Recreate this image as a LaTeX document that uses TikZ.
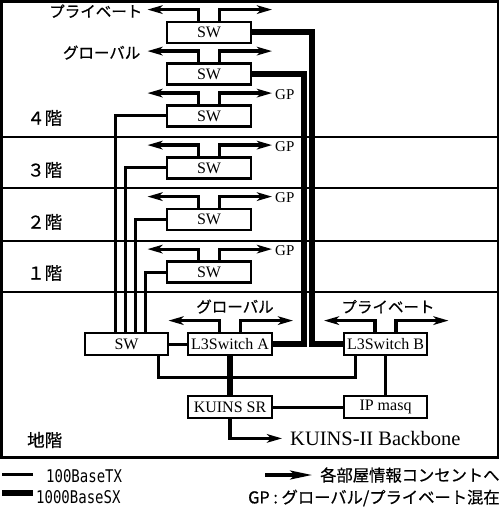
\documentclass[tikz,border=0pt]{standalone}
\usepackage{fontspec}
\setmainfont{Liberation Serif}
\newfontfamily\jp[FakeBold=0.6]{Noto Sans CJK JP}
\newfontfamily\lmono{DejaVu Sans Mono}
\usetikzlibrary{arrows.meta,calc}
\begin{document}
\begin{tikzpicture}[x=1pt,y=-1pt,
  boxst/.style={draw,line width=2.8pt,minimum width=84pt,minimum height=21pt,inner sep=0pt,font=\fontsize{16}{16}\selectfont},
  arr/.style={line width=3.2pt,-{Stealth[length=15pt,width=8.5pt,inset=4pt]}},
  thn/.style={line width=3pt},
  thk/.style={line width=6pt},
  floorline/.style={line width=2pt},
  jplab/.style={font=\jp\fontsize{15.5}{15.5}\selectfont,inner sep=0pt},
  floorlab/.style={font=\jp\fontsize{17.5}{17.5}\selectfont,inner sep=0pt,anchor=west},
  gplab/.style={font=\fontsize{15}{15}\selectfont,inner sep=0pt,anchor=west},
  legtext/.style={font=\jp\fontsize{16.3}{16.3}\selectfont,inner sep=0pt,anchor=west},
  legmono/.style={font=\lmono\fontsize{14}{14}\selectfont,inner sep=0pt,anchor=west}
]
\useasboundingbox (0,0) rectangle (500,510);
% frame and floors
\draw[line width=2.2pt] (1.5,1.5) rectangle (498,457.5);
\foreach \yy in {137,188.5,240.5,292}{\draw[floorline] (1.5,\yy) -- (498,\yy);}
\node[floorlab] (f4) at (27,118) {４階};
\node[floorlab] (f3) at (27,170) {３階};
\node[floorlab] (f2) at (27,222) {２階};
\node[floorlab] (f1) at (27,273) {１階};
\node[floorlab] (fb) at (27,440) {地階};
% switches
\node[boxst] (sw0) at (209,32.5) {SW};
\node[boxst] (sw1) at (209,74) {SW};
\node[boxst] (sw4) at (209,116) {SW};
\node[boxst] (sw3) at (209,168) {SW};
\node[boxst] (sw2) at (209,219.5) {SW};
\node[boxst] (swf) at (209,272) {SW};
\node[boxst,minimum width=83pt,minimum height=22pt] (swb) at (126.5,344) {SW};
\node[boxst,minimum height=22pt] (l3a) at (230,344) {L3Switch A};
\node[boxst,minimum width=83pt,minimum height=22pt] (l3b) at (385.5,344) {L3Switch B};
\node[boxst,minimum height=22pt] (sr) at (230,407) {KUINS SR};
\node[boxst,minimum width=83pt,minimum height=22pt] (ipm) at (385.5,407) {IP masq};
% outlet arrows
\foreach \n in {sw0,sw1,sw4,sw3,sw2,swf,l3a,l3b}{
  \draw[arr] ([xshift=-10.5pt]\n.north) -- ++(0,-11) -- ++(-51,0) coordinate (\n L);
  \draw[arr] ([xshift=10.5pt]\n.north) -- ++(0,-11) -- ++(52.5,0) coordinate (\n R);
}
\node[jplab,anchor=east] (lp0) at ([xshift=-5pt,yshift=-1.5pt]sw0L) {プライベート};
\node[jplab,anchor=east] (lg1) at ([xshift=-7pt,yshift=-1.5pt]sw1L) {グローバル};
\foreach \n in {sw4,sw3,sw2,swf}{\node[gplab] (\n GP) at ([xshift=3pt,yshift=-1.5pt]\n R) {GP};}
\node[jplab] (lga) at ([xshift=5pt,yshift=25pt]l3a.north) {グローバル};
\node[jplab] (lpb) at ([xshift=2.5pt,yshift=25pt]l3b.north) {プライベート};
% thick uplinks
\draw[thk] (sw0.east) -| ($(l3b.west)+(-31,0)$) -- (l3b.west);
\draw[thk] (sw1.east) -| ($(l3a.east)+(31,0)$) -- (l3a.east);
% thin floor links
\draw[thn] (sw4.west) -| ([xshift=32pt]swb.north west);
\draw[thn] (sw3.west) -| ([xshift=42pt]swb.north west);
\draw[thn] (sw2.west) -| ([xshift=52pt]swb.north west);
\draw[thn] (swf.west) -| ([xshift=62pt]swb.north west);
% basement links
\draw[thn] (swb.east) -- (l3a.west);
\draw[thn] ([xshift=31.5pt]swb.south) -- ++(0,21) -| ([xshift=-30.5pt]l3b.south);
\draw[thk] (l3a.south) -- (sr.north);
\draw[thn] (sr.east) -- (ipm.west);
\draw[thn] (l3b.south) -- (ipm.north);
\draw[arr] (sr.south) -- ++(0,19) -- ++(52,0) coordinate (bbtip);
\node[font=\fontsize{20.5}{20.5}\selectfont,inner sep=0pt,anchor=west] (bb) at ([xshift=8pt]bbtip) {KUINS-II Backbone};
% legend
\coordinate (lg1a) at (2,474); \coordinate (lg1b) at (33,474);
\coordinate (lg2a) at (2,493); \coordinate (lg2b) at (33,493);
\draw[line width=3pt] (lg1a) -- (lg1b);
\draw[line width=6pt] (lg2a) -- (lg2b);
\node[legmono] (t1) at (46,476) {\scalebox{1}[1.25]{100BaseTX}};
\node[legmono] (t2) at (36,497) {\scalebox{1}[1.25]{1000BaseSX}};
\coordinate (lg3a) at (265,475); \coordinate (lg3b) at (312,475);
\draw[line width=3.2pt,-{Stealth[length=22pt,width=9pt,inset=5pt]}] (lg3a) -- (lg3b);
\node[legtext] (t3) at (320,475) {各部屋情報コンセントへ};
\node[legtext] (t4) at (248,498) {GP : グローバル/プライベート混在};
\end{tikzpicture}
\end{document}
